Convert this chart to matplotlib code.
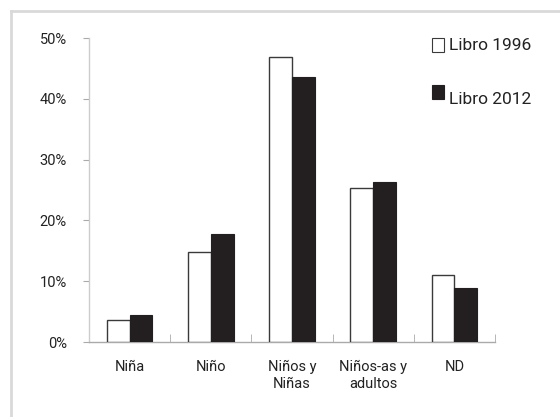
import matplotlib
matplotlib.use("Agg")
import matplotlib.pyplot as plt
from matplotlib.lines import Line2D
from matplotlib.patches import Rectangle
import numpy as np

categories = ["Niña", "Niño", "Niños y\nNiñas", "Niños-as y\nadultos", "ND"]
libro_1996 = [3.6, 14.8, 46.9, 25.3, 11.0]
libro_2012 = [4.4, 17.8, 43.6, 26.3, 8.8]
y_ticks = [0, 10, 20, 30, 40, 50]
y_labels = ["0%", "10%", "20%", "30%", "40%", "50%"]
series_names = ["Libro 1996", "Libro 2012"]

plt.rcParams['font.family'] = ['Roboto', 'DejaVu Sans']
tick_fs = 10.5
leg_fs = 12.5

W, H = 560, 417
fig = plt.figure(figsize=(W/100, H/100), dpi=100)
fig.patch.set_facecolor("white")

# figure frame (only top & left visible)
fig.add_artist(Line2D([10.5/W, 10.5/W], [0, 1 - 10.5/H], transform=fig.transFigure,
                      color="#d9d9d9", lw=2))
fig.add_artist(Line2D([10.5/W, 1], [1 - 10.5/H, 1 - 10.5/H], transform=fig.transFigure,
                      color="#d9d9d9", lw=2))

ax_left, ax_right = 89, 495
ax_top, ax_bottom = 38, 342
ax = fig.add_axes([ax_left/W, 1 - ax_bottom/H, (ax_right-ax_left)/W, (ax_bottom-ax_top)/H])

x = np.arange(len(categories))
bw = 0.28
edge = "#3a3a3a"
ax.bar(x - bw/2, libro_1996, bw, color="white", edgecolor=edge, linewidth=1.0, zorder=3)
ax.bar(x + bw/2, libro_2012, bw, color="#231f20", edgecolor="#231f20", linewidth=0.8, zorder=3)

ax.set_xlim(-0.5, len(categories) - 0.5)
ax.set_ylim(0, 50)
ax.set_yticks(y_ticks)
ax.set_yticklabels(y_labels, fontsize=tick_fs, color="#222222")
ax.set_xticks(x)
ax.set_xticklabels(categories, fontsize=tick_fs, color="#222222", linespacing=1.25)
ax.set_xticks(np.arange(len(categories) + 1) - 0.5, minor=True)
ax.tick_params(axis="x", which="major", length=0, pad=13)
ax.tick_params(axis="x", which="minor", length=6, color="#aaaaaa", direction="in")
ax.tick_params(axis="y", length=4, color="#aaaaaa", pad=12)
for s in ["top", "right"]:
    ax.spines[s].set_visible(False)
ax.spines["left"].set_color("#cccccc")
ax.spines["bottom"].set_color("#aaaaaa")
ax.spines["left"].set_linewidth(1.0)
ax.spines["bottom"].set_linewidth(1.0)

# legend
fig.add_artist(Rectangle((432/W, 1 - 52/H), 12/W, 14/H, transform=fig.transFigure,
                         facecolor="white", edgecolor=edge, lw=0.8))
fig.text(449/W, 1 - 45/H, series_names[0], fontsize=leg_fs, va="center", ha="left", color="#222222")
fig.add_artist(Rectangle((432/W, 1 - 99/H), 12/W, 14/H, transform=fig.transFigure,
                         facecolor="#231f20", edgecolor="#231f20", lw=0.8))
fig.text(449/W, 1 - 99/H, series_names[1], fontsize=leg_fs, va="center", ha="left", color="#222222")

fig.savefig("out.png", dpi=100, facecolor="white")
